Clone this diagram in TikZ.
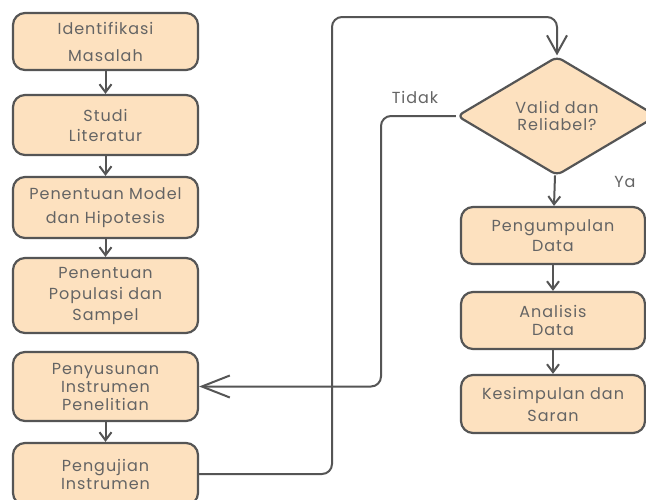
\documentclass[tikz,border=0pt]{standalone}
\usepackage{fontspec}
\setmainfont{Poppins}[LetterSpace=6]
\usetikzlibrary{arrows.meta,shapes.geometric}
\definecolor{boxfill}{RGB}{253,225,191}
\definecolor{linegrey}{RGB}{85,85,85}
\definecolor{textgrey}{RGB}{100,100,100}

\tikzset{
  stepbox/.style={draw=linegrey, fill=boxfill, line width=2.2pt, rounded corners=12pt,
    minimum width=185pt, inner sep=0pt, align=center, text=textgrey,
    font=\fontsize{16}{20}\selectfont},
  link/.style={draw=linegrey, line width=2pt, -{Straight Barb[length=8pt,width=12pt,line width=2pt]}},
  biglink/.style={draw=linegrey, line width=2pt, rounded corners=10pt},
}

\begin{document}
\begin{tikzpicture}[x=1pt, y=-1pt]
\fill[white] (0,0) rectangle (646,499);
\path[use as bounding box, clip] (0,0) rectangle (646,499);

% left column
\node[stepbox, minimum height=57pt] (ident) at (105.5,41.5) {Identifikasi\\[7pt]Masalah};
\node[stepbox, minimum height=60pt] (studi) at (105.5,125) {Studi\\Literatur};
\node[stepbox, minimum height=61pt] (model) at (105.5,207.5) {Penentuan Model\\[4pt]dan Hipotesis};
\node[stepbox, minimum height=75pt] (populasi) at (105.5,295.5) {Penentuan\\[1pt]Populasi dan\\[1pt]Sampel};
\node[stepbox, minimum height=69pt] (susun) at (105.5,386.5) {Penyusunan\\[-2pt]Instrumen\\[-2pt]Penelitian};
\node[stepbox, minimum height=62pt] (uji) at (105.5,474) {Pengujian\\[-2pt]Instrumen};

% right column
\node[diamond, draw=linegrey, fill=boxfill, line width=2.2pt, rounded corners=6pt,
  minimum width=200pt, minimum height=119pt, inner sep=0pt, align=center, text=textgrey,
  font=\fontsize{16}{17}\selectfont] (valid) at (557,116) {Valid dan\\Reliabel?};
\node[stepbox, minimum width=184pt, minimum height=57pt] (kumpul) at (553,235.5) {Pengumpulan\\Data};
\node[stepbox, minimum width=184pt, minimum height=57pt] (analisis) at (553,320.5) {Analisis\\[-2pt]Data};
\node[stepbox, minimum width=184pt, minimum height=58pt] (simpul) at (553,404) {Kesimpulan dan\\[2pt]Saran};

% labels
\node[text=textgrey, font=\fontsize{16}{14}\selectfont] (tidak) at (415,97) {Tidak};
\node[text=textgrey, font=\fontsize{16}{14}\selectfont] (ya) at (625,182) {Ya};

% arrows
\draw[link] (ident) -- (studi);
\draw[link] (studi) -- (model);
\draw[link] (model) -- (populasi);
\draw[link] (susun) -- (uji);
\draw[link] (valid) -- (kumpul);
\draw[link] (kumpul) -- (analisis);
\draw[link] (analisis) -- (simpul);

\coordinate (ujiturn) at (332,17);
\draw[biglink, -{Straight Barb[length=18pt,width=20pt,line width=2pt]}]
  (uji.east) -| (ujiturn) -| (valid.north);
\coordinate (tidakturn) at (381,386.5);
\draw[biglink, -{Straight Barb[length=28pt,width=22pt,line width=2pt]}]
  (valid.west) -| (tidakturn) -- (susun.east);
\end{tikzpicture}
\end{document}
